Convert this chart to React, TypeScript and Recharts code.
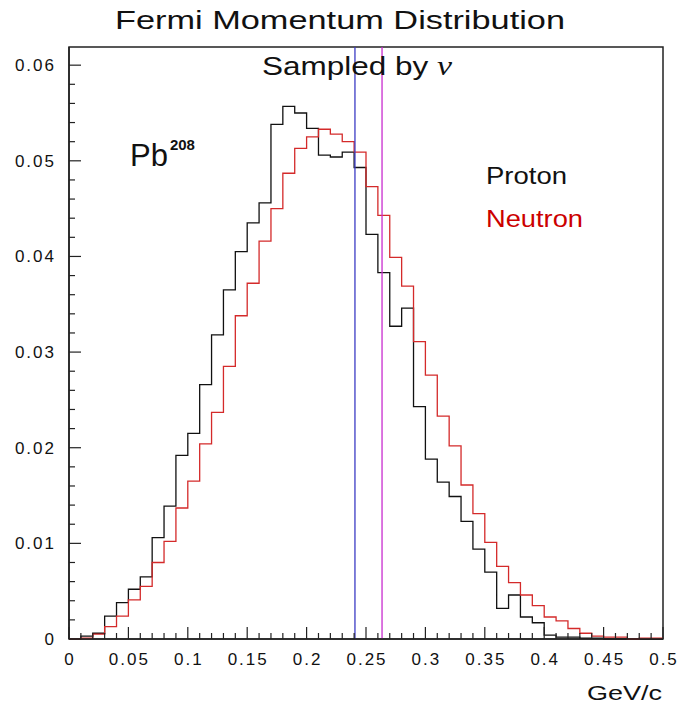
import {
  ComposedChart,
  Line,
  ReferenceArea,
  ReferenceLine,
  XAxis,
  YAxis,
} from "recharts";

// lower edges of the 0.01 GeV/c bins, plus the closing edge at 0.5
const binEdges = [
  0, 0.01, 0.02, 0.03, 0.04, 0.05, 0.06, 0.07, 0.08, 0.09,
  0.1, 0.11, 0.12, 0.13, 0.14, 0.15, 0.16, 0.17, 0.18, 0.19,
  0.2, 0.21, 0.22, 0.23, 0.24, 0.25, 0.26, 0.27, 0.28, 0.29,
  0.3, 0.31, 0.32, 0.33, 0.34, 0.35, 0.36, 0.37, 0.38, 0.39,
  0.4, 0.41, 0.42, 0.43, 0.44, 0.45, 0.46, 0.47, 0.48, 0.49, 0.5,
];

const protonDensity = [
  0.0, 0.0003, 0.0006, 0.0024, 0.0038, 0.0052, 0.0065, 0.0106, 0.0139, 0.0192,
  0.0215, 0.0266, 0.0318, 0.0365, 0.0405, 0.0435, 0.0456, 0.0538, 0.0557, 0.055,
  0.0534, 0.0506, 0.0504, 0.0509, 0.0493, 0.0423, 0.0383, 0.0327, 0.0346, 0.0243,
  0.0188, 0.0164, 0.0149, 0.0123, 0.0094, 0.007, 0.0032, 0.0046, 0.0023, 0.0017,
  0.0004, 0.0002, 0.0002, 0.0001, 0.0001, 0.0, 0.0, 0.0, 0.0, 0.0,
];

const neutronDensity = [
  0.0, 0.0001, 0.0005, 0.0013, 0.0024, 0.0041, 0.0055, 0.008, 0.0102, 0.0137,
  0.0165, 0.0204, 0.0237, 0.0285, 0.0338, 0.0372, 0.0416, 0.045, 0.0487, 0.0513,
  0.0525, 0.0533, 0.0528, 0.052, 0.0509, 0.0473, 0.0443, 0.0399, 0.0369, 0.0311,
  0.0276, 0.0233, 0.0202, 0.0161, 0.0131, 0.0101, 0.0076, 0.0059, 0.0046, 0.0035,
  0.0023, 0.0019, 0.0011, 0.0006, 0.0003, 0.0002, 0.0002, 0.0, 0.0001, 0.0001,
];

// vertical markers: proton and neutron mean momentum
const meanMomentum = [0.2407, 0.2635];

const xTickLabels = ["0", "0.05", "0.1", "0.15", "0.2", "0.25", "0.3", "0.35", "0.4", "0.45", "0.5"];
const yTickValues = [
  0, 0.002, 0.004, 0.006, 0.008, 0.01, 0.012, 0.014, 0.016, 0.018,
  0.02, 0.022, 0.024, 0.026, 0.028, 0.03, 0.032, 0.034, 0.036, 0.038,
  0.04, 0.042, 0.044, 0.046, 0.048, 0.05, 0.052, 0.054, 0.056, 0.058, 0.06,
];
const yTickLabels = ["0", "0.01", "0.02", "0.03", "0.04", "0.05", "0.06"];

const Y_MAX = 0.0619;
const FONT = '"Liberation Sans", Arial, sans-serif';
const AXIS_COLOR = "#222";
const MARKER_COLORS = ["#3b3bc4", "#c82ccf"];

// step histogram: each point opens a bin, the last one closes the final bin
const data = binEdges.map((edge, i) => {
  const bin = Math.min(i, protonDensity.length - 1);
  return { p: edge, proton: protonDensity[bin], neutron: neutronDensity[bin] };
});

function XTick(props: any) {
  const { x, y, payload } = props;
  const step = Math.round(payload.value * 100);
  const major = step % 5 === 0;
  return (
    <g>
      <line x1={x} x2={x} y1={y} y2={y - (major ? 12 : 6)} stroke={AXIS_COLOR} strokeWidth={1.2} />
      {major ? (
        <text
          x={x + 1}
          y={y + 26}
          textAnchor="middle"
          fontFamily={FONT}
          fontSize={17}
          letterSpacing={2}
          fill="#111"
        >
          {xTickLabels[step / 5]}
        </text>
      ) : null}
    </g>
  );
}

function YTick(props: any) {
  const { x, y, payload } = props;
  const step = Math.round(payload.value * 1000);
  const major = step % 10 === 0;
  return (
    <g>
      <line x1={x} x2={x + (major ? 12 : 6)} y1={y} y2={y} stroke={AXIS_COLOR} strokeWidth={1.2} />
      {major ? (
        <text
          x={x - 13}
          y={y + 6}
          textAnchor="end"
          fontFamily={FONT}
          fontSize={17}
          letterSpacing={2}
          fill="#111"
        >
          {yTickLabels[step / 10]}
        </text>
      ) : null}
    </g>
  );
}

export default function App() {
  return (
    <div style={{ position: "absolute", left: 0, top: 0, width: 678, height: 708, background: "#fff" }}>
      <ComposedChart
        width={678}
        height={708}
        data={data}
        margin={{ top: 47, right: 15, bottom: 0, left: 0 }}
      >
        <XAxis
          dataKey="p"
          type="number"
          domain={[0, 0.5]}
          ticks={binEdges}
          interval={0}
          height={69}
          tickSize={0}
          tickMargin={0}
          tickLine={false}
          tick={<XTick />}
          axisLine={{ stroke: AXIS_COLOR, strokeWidth: 1.5 }}
        />
        <YAxis
          type="number"
          domain={[0, Y_MAX]}
          ticks={yTickValues}
          interval={0}
          width={69}
          tickSize={0}
          tickMargin={0}
          tickLine={false}
          tick={<YTick />}
          axisLine={{ stroke: AXIS_COLOR, strokeWidth: 1.5 }}
        />
        <ReferenceArea
          x1={0}
          x2={0.5}
          y1={0}
          y2={Y_MAX}
          fill="none"
          fillOpacity={0}
          stroke={AXIS_COLOR}
          strokeWidth={1.5}
        />
        <Line
          type="stepAfter"
          dataKey="proton"
          stroke="#111"
          strokeWidth={1.3}
          dot={false}
          isAnimationActive={false}
        />
        <Line
          type="stepAfter"
          dataKey="neutron"
          stroke="#d42a2a"
          strokeWidth={1.3}
          dot={false}
          isAnimationActive={false}
        />
        {meanMomentum.map((value, i) => (
          <ReferenceLine key={value} x={value} stroke={MARKER_COLORS[i]} strokeWidth={1.3} />
        ))}
      </ComposedChart>

      <svg
        width={678}
        height={708}
        style={{ position: "absolute", left: 0, top: 0, pointerEvents: "none" }}
      >
        <text
          x={115}
          y={29}
          fontFamily={FONT}
          fontSize={26}
          textLength={450}
          lengthAdjust="spacingAndGlyphs"
          fill="#111"
        >
          Fermi Momentum Distribution
        </text>
        <text
          x={262}
          y={75}
          fontFamily={FONT}
          fontSize={26}
          textLength={190}
          lengthAdjust="spacingAndGlyphs"
          fill="#111"
        >
          Sampled by{" "}
          <tspan fontFamily='"Liberation Serif", serif' fontStyle="italic" fontSize={28}>
            ν
          </tspan>
        </text>
        <text x={130} y={166} fontFamily={FONT} fontSize={31} fill="#111">
          Pb
          <tspan dx={2} dy={-16} fontSize={15} fontWeight="bold">
            208
          </tspan>
        </text>
        <text
          x={486}
          y={184}
          fontFamily={FONT}
          fontSize={24}
          textLength={81}
          lengthAdjust="spacingAndGlyphs"
          fill="#111"
        >
          Proton
        </text>
        <text
          x={486}
          y={227}
          fontFamily={FONT}
          fontSize={24}
          textLength={97}
          lengthAdjust="spacingAndGlyphs"
          fill="#cc0000"
        >
          Neutron
        </text>
        <text
          x={587}
          y={700}
          fontFamily={FONT}
          fontSize={20}
          textLength={75}
          lengthAdjust="spacingAndGlyphs"
          fill="#111"
        >
          GeV/c
        </text>
      </svg>
    </div>
  );
}
